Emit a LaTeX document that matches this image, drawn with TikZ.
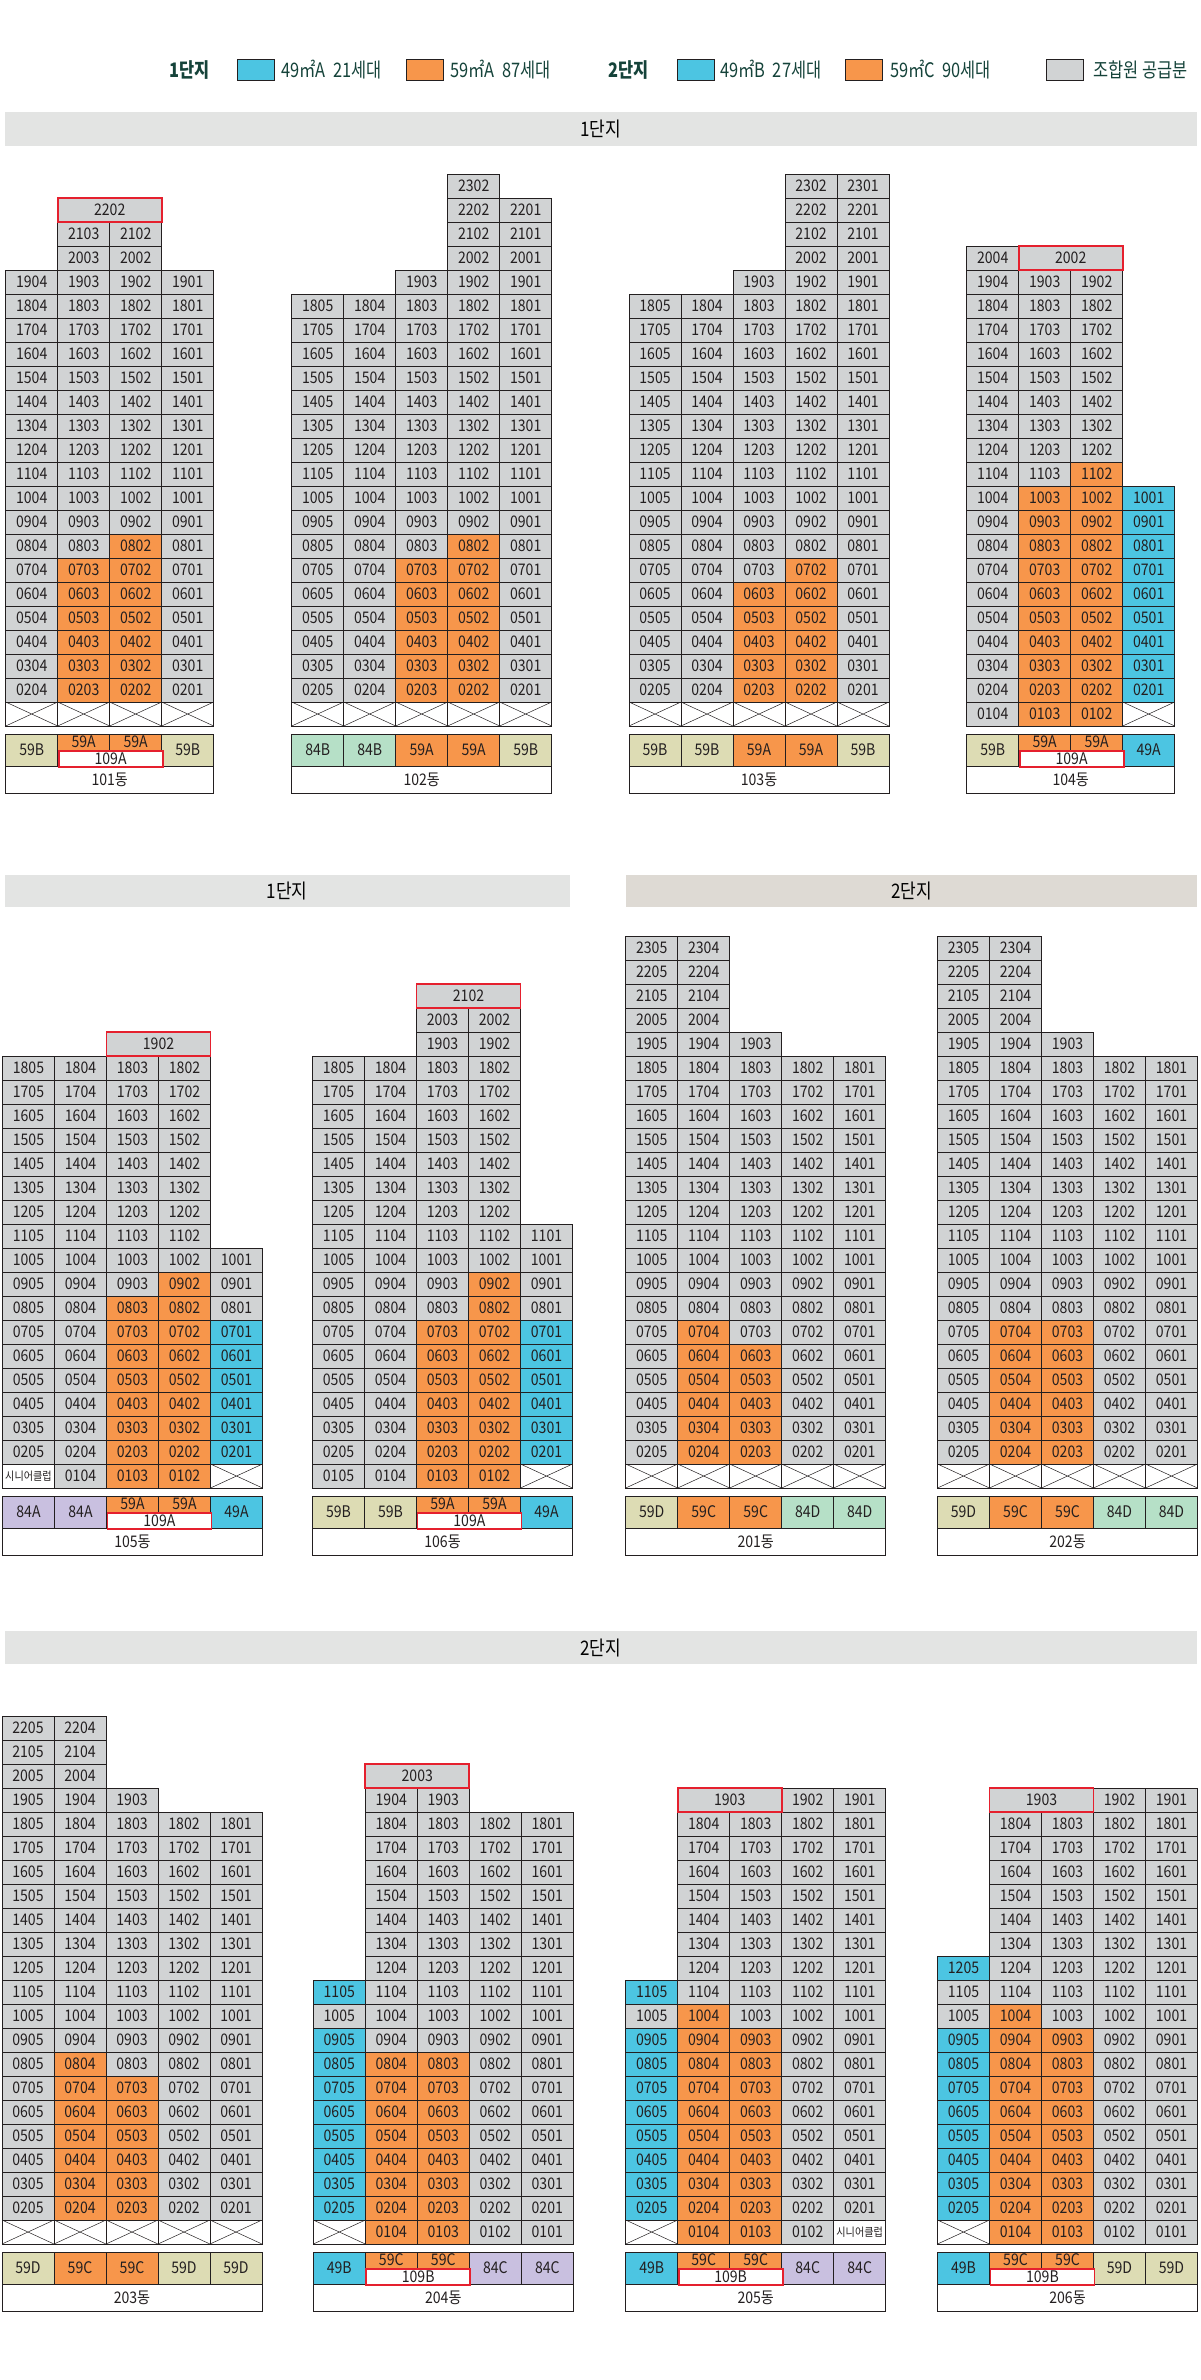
\documentclass[tikz,border=0pt]{standalone}
\usepackage{fontspec}
\usepackage{ifthen}
\setmainfont{Noto Sans CJK KR}
\newfontfamily\cellf[FakeStretch=0.88]{Noto Sans CJK KR}
\newfontfamily\bandf[FakeStretch=0.85]{Noto Sans CJK KR}
\newfontfamily\legf[FakeStretch=0.82]{Noto Sans CJK KR}
\definecolor{ink}{HTML}{231F20}
\definecolor{cgray}{HTML}{D1D3D4}
\definecolor{corange}{HTML}{F7964B}
\definecolor{ccyan}{HTML}{4CC5E2}
\definecolor{ckhaki}{HTML}{DDDCB4}
\definecolor{cmint}{HTML}{B6E0C7}
\definecolor{clav}{HTML}{C9C0E0}
\definecolor{cred}{HTML}{E5202E}
\definecolor{bandc}{HTML}{E3E4E3}
\definecolor{bandw}{HTML}{DEDAD4}
\definecolor{legtext}{HTML}{15433A}
\tikzset{
 cell/.style={draw=ink,line width=0.9pt,minimum width=52pt,minimum height=24pt,inner sep=0pt,outer sep=0pt,anchor=north west,font=\cellf\fontsize{16}{16}\selectfont,text=ink},
 cg/.style={fill=cgray}, co/.style={fill=corange}, cc/.style={fill=ccyan}, cw/.style={fill=white},
 cx/.style={fill=white,path picture={\draw[line width=0.5pt,ink] (path picture bounding box.north west)--(path picture bounding box.south east) (path picture bounding box.south west)--(path picture bounding box.north east);}},
 tcell/.style={cell,minimum height=32pt},
 tk/.style={fill=ckhaki}, tm/.style={fill=cmint}, tl/.style={fill=clav}, tc/.style={fill=ccyan}, to/.style={fill=corange},
 th/.style={fill=corange,minimum height=16pt},
 redbox/.style={draw=cred,line width=1.8pt,fill=white,minimum width=104pt,minimum height=16pt,inner sep=0pt,anchor=north west,font=\cellf\fontsize{16}{16}\selectfont,text=ink},
 redf/.style={draw=cred,line width=1.8pt},
 lbl/.style={cell,fill=white,minimum height=27pt},
 bandbox/.style={fill=bandc,inner sep=0pt,font=\bandf\fontsize{20}{20}\selectfont,text=black},
 lsq/.style={draw=ink,line width=0.6pt,minimum width=37pt,minimum height=21pt,inner sep=0pt},
 ltx/.style={anchor=west,inner sep=0pt,font=\legf\fontsize{20}{20}\selectfont,text=legtext},
 lhd/.style={inner sep=0pt,font=\legf\bfseries\fontsize{20}{20}\selectfont,text=legtext},
}
\newcommand\flr[1]{\ifnum#1<10 0\fi#1}
\newcommand\Bld[4]{\def\Bn{#1}\def\Nc{#2}\def\Bx{#3}\def\Bb{#4}}
\newcommand\Row[2]{%
 \foreach \Cs [count=\Ci from 0] in {#2}{%
  \ifthenelse{\equal{\Cs}{nn}}{}{%
   \pgfmathtruncatemacro\Un{\Nc-\Ci}%
   \ifthenelse{\equal{\Cs}{cx}}%
    {\node[cell,cx] (\Bn-#1-\Un) at ({\Bx+\Ci*52},{\Bb-#1*24}) {};}%
    {\node[cell,\Cs] (\Bn-#1-\Un) at ({\Bx+\Ci*52},{\Bb-#1*24}) {\flr{#1}0\Un};}%
  }}}
\newcommand\Merged[3]{\node[cell,cg,minimum width=104pt] (\Bn-#1-m) at ({\Bx+#2*52},{\Bb-#1*24}) {#3};}
\newcommand\RedFrame[1]{\draw[redf] (\Bn-#1-m.north west) rectangle (\Bn-#1-m.south east);}
\newcommand\TypeRow[1]{\foreach \Ts/\Tt [count=\Ci from 0] in {#1}{\node[tcell,\Ts] (\Bn-t\Ci) at ({\Bx+\Ci*52},{\Bb+8}) {\Tt};}}
\newcommand\Lbl[1]{\node[lbl,minimum width=\Nc*52pt] (\Bn-name) at ({\Bx},{\Bb+40}) {#1동};}
\newcommand\RBox[2]{\node[redbox] (\Bn-r) at ({\Bx+#1*52},{\Bb+24}) {#2};}
\newcommand\Senior[2]{\node[cell,cw,font=\cellf\fontsize{11.5}{11.5}\selectfont] (\Bn-1-#2) at ({\Bx+#1*52},{\Bb-24}) {시니어클럽};}
\begin{document}
\begin{tikzpicture}[x=1pt,y=-1pt]
\useasboundingbox (0,0) rectangle (1200,2380);
% legend
\node[lhd] (lg1) at (190,70) {1단지};
\node[lsq,fill=ccyan] (lq1) at (255.7,70) {};
\node[ltx] (lt1) at (281,70) {49㎡A\ \ 21세대};
\node[lsq,fill=corange] (lq2) at (425,70) {};
\node[ltx] (lt2) at (450,70) {59㎡A\ \ 87세대};
\node[lhd] (lg2) at (628.7,70) {2단지};
\node[lsq,fill=ccyan] (lq3) at (695.3,70) {};
\node[ltx] (lt3) at (720,70) {49㎡B\ \ 27세대};
\node[lsq,fill=corange] (lq4) at (864,70) {};
\node[ltx] (lt4) at (890,70) {59㎡C\ \ 90세대};
\node[lsq,fill=cgray] (lq5) at (1065,70) {};
\node[ltx] (lt5) at (1093,70) {조합원 공급분};
% bands
\node[bandbox,minimum width=1192.5pt,minimum height=34pt] (hd1) at (600.75,129) {1단지};
\node[bandbox,minimum width=565.5pt,minimum height=32pt] (hd2) at (287.25,891) {1단지};
\node[bandbox,fill=bandw,minimum width=571pt,minimum height=32pt] (hd3) at (911.5,891) {2단지};
\node[bandbox,minimum width=1192.5pt,minimum height=33pt] (hd4) at (600.75,1647.5) {2단지};
% ===== 101
\Bld{b101}{4}{5.7}{726}
\Merged{22}{1}{2202}
\Row{21}{nn,cg,cg,nn}
\Row{20}{nn,cg,cg,nn}
\foreach \Fl in {19,18,...,9}{\Row{\Fl}{cg,cg,cg,cg}}
\Row{8}{cg,cg,co,cg}
\foreach \Fl in {7,6,...,2}{\Row{\Fl}{cg,co,co,cg}}
\Row{1}{cx,cx,cx,cx}
\TypeRow{tk/59B,th/59A,th/59A,tk/59B}
\Lbl{101}
\RBox{1}{109A}
\RedFrame{22}
% ===== 102
\Bld{b102}{5}{291.7}{726}
\Row{23}{nn,nn,nn,cg,nn}
\foreach \Fl in {22,21,20}{\Row{\Fl}{nn,nn,nn,cg,cg}}
\Row{19}{nn,nn,cg,cg,cg}
\foreach \Fl in {18,17,...,9}{\Row{\Fl}{cg,cg,cg,cg,cg}}
\Row{8}{cg,cg,cg,co,cg}
\foreach \Fl in {7,6,...,2}{\Row{\Fl}{cg,cg,co,co,cg}}
\Row{1}{cx,cx,cx,cx,cx}
\TypeRow{tm/84B,tm/84B,to/59A,to/59A,tk/59B}
\Lbl{102}
% ===== 103
\Bld{b103}{5}{629}{726}
\foreach \Fl in {23,22,21,20}{\Row{\Fl}{nn,nn,nn,cg,cg}}
\Row{19}{nn,nn,cg,cg,cg}
\foreach \Fl in {18,17,...,8}{\Row{\Fl}{cg,cg,cg,cg,cg}}
\Row{7}{cg,cg,cg,co,cg}
\foreach \Fl in {6,5,...,2}{\Row{\Fl}{cg,cg,co,co,cg}}
\Row{1}{cx,cx,cx,cx,cx}
\TypeRow{tk/59B,tk/59B,to/59A,to/59A,tk/59B}
\Lbl{103}
% ===== 104
\Bld{b104}{4}{966.7}{726}
\Row{20}{cg,nn,nn,nn}
\Merged{20}{1}{2002}
\foreach \Fl in {19,18,...,12}{\Row{\Fl}{cg,cg,cg,nn}}
\Row{11}{cg,cg,co,nn}
\foreach \Fl in {10,9,...,2}{\Row{\Fl}{cg,co,co,cc}}
\Row{1}{cg,co,co,cx}
\TypeRow{tk/59B,th/59A,th/59A,tc/49A}
\Lbl{104}
\RBox{1}{109A}
\RedFrame{20}
% ===== 105
\Bld{b105}{5}{2.5}{1488}
\Merged{19}{2}{1902}
\foreach \Fl in {18,17,...,11}{\Row{\Fl}{cg,cg,cg,cg,nn}}
\Row{10}{cg,cg,cg,cg,cg}
\Row{9}{cg,cg,cg,co,cg}
\Row{8}{cg,cg,co,co,cg}
\foreach \Fl in {7,6,...,2}{\Row{\Fl}{cg,cg,co,co,cc}}
\Row{1}{nn,cg,co,co,cx}
\Senior{0}{5}
\TypeRow{tl/84A,tl/84A,th/59A,th/59A,tc/49A}
\Lbl{105}
\RBox{2}{109A}
\RedFrame{19}
% ===== 106
\Bld{b106}{5}{312.5}{1488}
\Merged{21}{2}{2102}
\foreach \Fl in {20,19}{\Row{\Fl}{nn,nn,cg,cg,nn}}
\foreach \Fl in {18,17,...,12}{\Row{\Fl}{cg,cg,cg,cg,nn}}
\foreach \Fl in {11,10}{\Row{\Fl}{cg,cg,cg,cg,cg}}
\foreach \Fl in {9,8}{\Row{\Fl}{cg,cg,cg,co,cg}}
\foreach \Fl in {7,6,...,2}{\Row{\Fl}{cg,cg,co,co,cc}}
\Row{1}{cg,cg,co,co,cx}
\TypeRow{tk/59B,tk/59B,th/59A,th/59A,tc/49A}
\Lbl{106}
\RBox{2}{109A}
\RedFrame{21}
% ===== 201
\Bld{b201}{5}{625.7}{1488}
\foreach \Fl in {23,22,21,20}{\Row{\Fl}{cg,cg,nn,nn,nn}}
\Row{19}{cg,cg,cg,nn,nn}
\foreach \Fl in {18,17,...,8}{\Row{\Fl}{cg,cg,cg,cg,cg}}
\Row{7}{cg,co,cg,cg,cg}
\foreach \Fl in {6,5,...,2}{\Row{\Fl}{cg,co,co,cg,cg}}
\Row{1}{cx,cx,cx,cx,cx}
\TypeRow{tk/59D,to/59C,to/59C,tm/84D,tm/84D}
\Lbl{201}
% ===== 202
\Bld{b202}{5}{937.5}{1488}
\foreach \Fl in {23,22,21,20}{\Row{\Fl}{cg,cg,nn,nn,nn}}
\Row{19}{cg,cg,cg,nn,nn}
\foreach \Fl in {18,17,...,8}{\Row{\Fl}{cg,cg,cg,cg,cg}}
\foreach \Fl in {7,6,...,2}{\Row{\Fl}{cg,co,co,cg,cg}}
\Row{1}{cx,cx,cx,cx,cx}
\TypeRow{tk/59D,to/59C,to/59C,tm/84D,tm/84D}
\Lbl{202}
% ===== 203
\Bld{b203}{5}{2}{2244}
\foreach \Fl in {22,21,20}{\Row{\Fl}{cg,cg,nn,nn,nn}}
\Row{19}{cg,cg,cg,nn,nn}
\foreach \Fl in {18,17,...,9}{\Row{\Fl}{cg,cg,cg,cg,cg}}
\Row{8}{cg,co,cg,cg,cg}
\foreach \Fl in {7,6,...,2}{\Row{\Fl}{cg,co,co,cg,cg}}
\Row{1}{cx,cx,cx,cx,cx}
\TypeRow{tk/59D,to/59C,to/59C,tk/59D,tk/59D}
\Lbl{203}
% ===== 204
\Bld{b204}{5}{313.3}{2244}
\Merged{20}{1}{2003}
\Row{19}{nn,cg,cg,nn,nn}
\foreach \Fl in {18,17,...,12}{\Row{\Fl}{nn,cg,cg,cg,cg}}
\Row{11}{cc,cg,cg,cg,cg}
\Row{10}{cg,cg,cg,cg,cg}
\Row{9}{cc,cg,cg,cg,cg}
\foreach \Fl in {8,7,...,2}{\Row{\Fl}{cc,co,co,cg,cg}}
\Row{1}{cx,co,co,cg,cg}
\TypeRow{tc/49B,th/59C,th/59C,tl/84C,tl/84C}
\Lbl{204}
\RBox{1}{109B}
\RedFrame{20}
% ===== 205
\Bld{b205}{5}{625.7}{2244}
\Row{19}{nn,nn,nn,cg,cg}
\Merged{19}{1}{1903}
\foreach \Fl in {18,17,...,12}{\Row{\Fl}{nn,cg,cg,cg,cg}}
\Row{11}{cc,cg,cg,cg,cg}
\Row{10}{cg,co,cg,cg,cg}
\foreach \Fl in {9,8,...,2}{\Row{\Fl}{cc,co,co,cg,cg}}
\Row{1}{cx,co,co,cg,nn}
\Senior{4}{1}
\TypeRow{tc/49B,th/59C,th/59C,tl/84C,tl/84C}
\Lbl{205}
\RBox{1}{109B}
\RedFrame{19}
% ===== 206
\Bld{b206}{5}{937.5}{2244}
\Row{19}{nn,nn,nn,cg,cg}
\Merged{19}{1}{1903}
\foreach \Fl in {18,17,...,13}{\Row{\Fl}{nn,cg,cg,cg,cg}}
\Row{12}{cc,cg,cg,cg,cg}
\Row{11}{cg,cg,cg,cg,cg}
\Row{10}{cg,co,cg,cg,cg}
\foreach \Fl in {9,8,...,2}{\Row{\Fl}{cc,co,co,cg,cg}}
\Row{1}{cx,co,co,cg,cg}
\TypeRow{tc/49B,th/59C,th/59C,tk/59D,tk/59D}
\Lbl{206}
\RBox{1}{109B}
\RedFrame{19}
\end{tikzpicture}
\end{document}
